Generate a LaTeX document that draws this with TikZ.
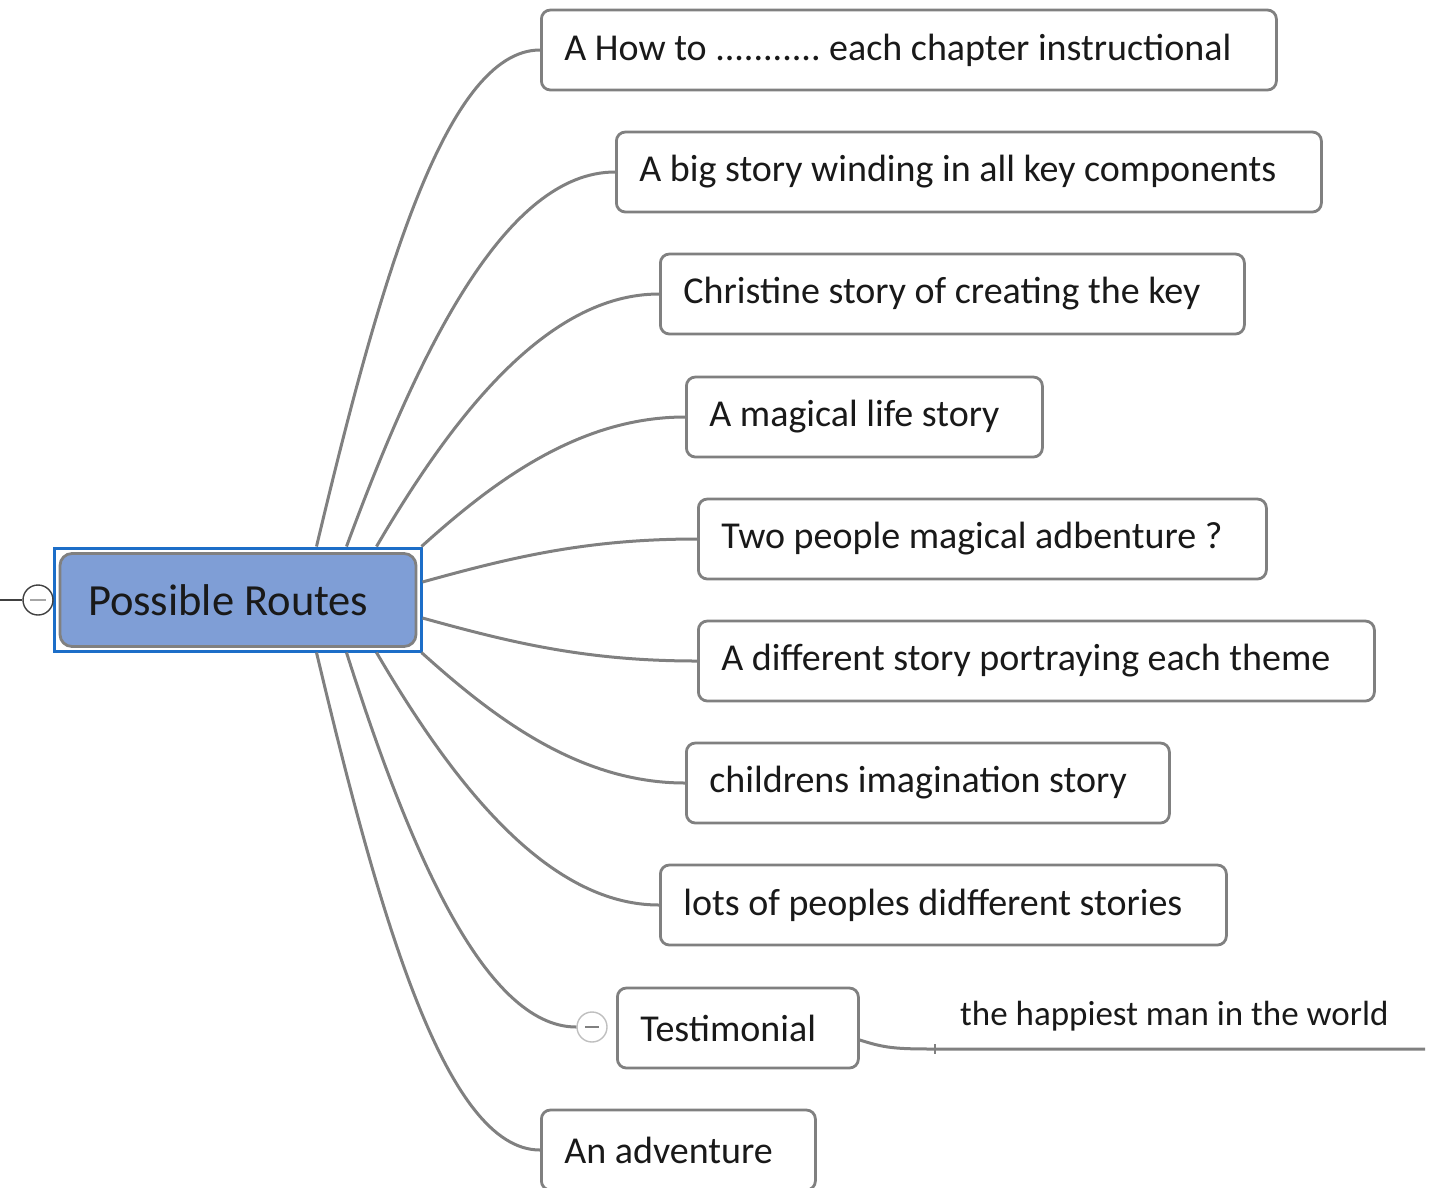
\documentclass[tikz,border=0pt]{standalone}
\usepackage{fontspec}
\setmainfont{Carlito}
\definecolor{boxgray}{RGB}{128,128,128}
\definecolor{linkgray}{RGB}{128,128,128}
\definecolor{rootfill}{RGB}{127,158,214}
\definecolor{framblue}{RGB}{28,110,200}
\definecolor{txt}{RGB}{25,25,25}
\newcommand{\lbox}[2]{\makebox[#1][l]{#2}}
\begin{document}
\frenchspacing
\begin{tikzpicture}[x=1pt,y=-1pt,
  leaf/.style={draw=boxgray, line width=2.8pt, rounded corners=9pt, fill=white, anchor=west,
    minimum height=80pt, inner xsep=23pt, inner ysep=0pt,
    font=\fontsize{38}{40}\selectfont, text=txt},
  link/.style={draw=linkgray, line width=3pt},
  knob/.style={circle, draw, fill=white, minimum size=30pt, inner sep=0pt, line width=1.4pt}]
\useasboundingbox (0,0) rectangle (1429,1187);

% leaves
\node[leaf] (n1) at (540,50) {\lbox{689pt}{A How to ........... each chapter instructional}};
\node[leaf] (n2) at (615,172) {\lbox{659pt}{A big story winding in all key components}};
\node[leaf] (n3) at (659,294) {\lbox{538pt}{Christine story of creating the key}};
\node[leaf] (n4) at (685,417) {\lbox{310pt}{A magical life story}};
\node[leaf] (n5) at (697,539) {\lbox{522pt}{Two people magical adbenture ?}};
\node[leaf] (n6) at (697,661) {\lbox{630pt}{A different story portraying each theme}};
\node[leaf] (n7) at (685,783) {\lbox{437pt}{childrens imagination story}};
\node[leaf] (n8) at (659,905) {\lbox{520pt}{lots of peoples didfferent stories}};
\node[leaf] (n9) at (616,1028) {\lbox{195pt}{Testimonial}};
\node[leaf] (n10) at (540,1150) {\lbox{228pt}{An adventure}};

% root
\node[draw=framblue, line width=3pt, minimum width=367pt, minimum height=103pt, inner sep=0pt] (frame) at (237.5,599.5) {};
\node[draw=boxgray, line width=2.8pt, fill=rootfill, rounded corners=12pt, minimum height=93pt,
  inner xsep=28pt, inner ysep=0pt, font=\fontsize{44.5}{48}\selectfont, text=txt] (root) at (238,600) {\lbox{300pt}{Possible Routes}};

% connectors
\draw[link] ([xshift=264pt]frame.north west) .. controls +(62,-260) and +(-95,0) .. (n1.west);
\draw[link] ([xshift=294pt]frame.north west) .. controls +(72,-195) and +(-110,0) .. (n2.west);
\draw[link] ([xshift=324pt]frame.north west) .. controls +(76,-130) and +(-112,0) .. (n3.west);
\draw[link] ([xshift=-1pt]frame.north east) .. controls +(72,-65) and +(-106,0) .. (n4.west);
\draw[link] ([yshift=17.5pt]frame.east) .. controls +(90,-25) and +(-110,0) .. (n5.west);
\draw[link] ([yshift=-18.5pt]frame.east) .. controls +(90,25) and +(-110,0) .. (n6.west);
\draw[link] ([xshift=-1pt]frame.south east) .. controls +(72,65) and +(-106,0) .. (n7.west);
\draw[link] ([xshift=324pt]frame.south west) .. controls +(76,130) and +(-112,0) .. (n8.west);
\node[knob, draw=black!25] (c9) at (592,1027) {};
\draw[link] ([xshift=294pt]frame.south west) .. controls +(62,195) and +(-92,0) .. (c9.west);
\draw[link] ([xshift=264pt]frame.south west) .. controls +(62,260) and +(-95,0) .. (n10.west);
\draw[linkgray, line width=2pt] ([xshift=-7pt]c9.center) -- ([xshift=7pt]c9.center);

% left collapse knob
\coordinate (e0) at (0,600);
\node[knob, draw=black!75] (c0) at (38,600) {};
\draw[black!75, line width=1.6pt] (e0) -- (c0.west);
\draw[black!35, line width=2pt] ([xshift=-8pt]c0.center) -- ([xshift=8pt]c0.center);

% testimonial subtopic
\coordinate (t1) at (935,1049);
\coordinate (t2) at (1425,1049);
\draw[link] ([yshift=-12pt]n9.east) .. controls +(25,8) and +(-40,0) .. (t1) -- (t2);
\draw[linkgray, line width=1.5pt] ([yshift=5pt]t1) -- ([yshift=-5pt]t1);
\node[anchor=west, inner sep=0pt, font=\fontsize{35}{38}\selectfont, text=txt] (tx) at (960,1016) {the happiest man in the world};
\end{tikzpicture}
\end{document}
